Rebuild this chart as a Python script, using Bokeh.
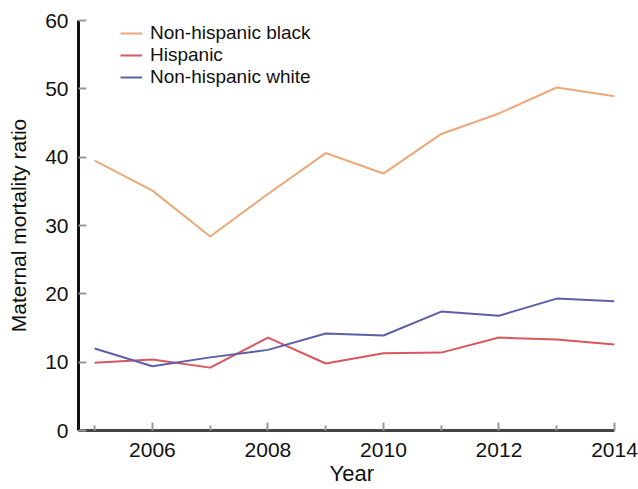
from bokeh.plotting import figure
from bokeh.models import FixedTicker, Range1d, Title
from bokeh.embed import file_html
from bokeh.resources import INLINE

years = [2005, 2006, 2007, 2008, 2009, 2010, 2011, 2012, 2013, 2014]
nh_black = [39.5, 35.1, 28.4, 34.6, 40.6, 37.6, 43.4, 46.4, 50.2, 48.9]
hispanic = [9.9, 10.4, 9.2, 13.6, 9.8, 11.3, 11.4, 13.6, 13.3, 12.6]
nh_white = [12.0, 9.4, 10.7, 11.8, 14.2, 13.9, 17.4, 16.8, 19.3, 18.9]
x_major = [2006, 2008, 2010, 2012, 2014]
x_minor = [2005, 2007, 2009, 2011, 2013]
y_ticks = [0, 10, 20, 30, 40, 50, 60]

FONT = "Liberation Sans"

p = figure(width=638, height=489, output_backend="svg", toolbar_location=None,
           x_range=Range1d(2004.72, 2014), y_range=Range1d(0, 60),
           min_border_left=78, min_border_right=24, min_border_top=20,
           min_border_bottom=59)
p.outline_line_color = None
p.xgrid.visible = False
p.ygrid.visible = False

p.line(years, nh_black, line_color="#EBA878", line_width=2, line_join="round",
       legend_label="Non-hispanic black")
p.line(years, hispanic, line_color="#D9575C", line_width=2, line_join="round",
       legend_label="Hispanic")
p.line(years, nh_white, line_color="#5C5FA8", line_width=2, line_join="round",
       legend_label="Non-hispanic white")

xa = p.xaxis[0]
xa.ticker = FixedTicker(ticks=x_major, minor_ticks=x_minor)
xa.axis_line_width = 3
xa.axis_line_color = "#444444"
xa.major_tick_in = 8
xa.major_tick_out = 0
xa.minor_tick_in = 5
xa.minor_tick_out = 0
xa.major_tick_line_color = "#999999"
xa.minor_tick_line_color = "#999999"
xa.major_tick_line_width = 2
xa.minor_tick_line_width = 2
xa.major_label_text_font = FONT
xa.major_label_text_font_size = "21px"
xa.major_label_text_color = "#111111"
xa.major_label_standoff = 12

p.add_layout(Title(text="Year", align="left", vertical_align="middle",
                   text_font=FONT, text_font_size="22px",
                   text_font_style="normal", text_color="#111111",
                   standoff=0, offset=251), "below")

ya = p.yaxis[0]
ya.ticker = FixedTicker(ticks=y_ticks, minor_ticks=[])
ya.axis_label = "Maternal mortality ratio"
ya.axis_line_width = 3
ya.axis_line_color = "#111111"
ya.major_tick_in = 8
ya.major_tick_out = 0
ya.minor_tick_in = 0
ya.minor_tick_out = 0
ya.major_tick_line_color = "#999999"
ya.major_tick_line_width = 2
ya.major_label_text_font = FONT
ya.major_label_text_font_size = "21px"
ya.major_label_text_color = "#111111"
ya.major_label_standoff = 10
ya.axis_label_text_font = FONT
ya.axis_label_text_font_size = "21px"
ya.axis_label_text_font_style = "normal"
ya.axis_label_text_color = "#111111"
ya.axis_label_standoff = 12

lg = p.legend[0]
lg.location = (42, 342)
lg.padding = 0
lg.margin = 0
lg.spacing = 0
lg.label_height = 20
lg.glyph_height = 20
lg.glyph_width = 22
lg.label_standoff = 8
lg.label_text_font = FONT
lg.label_text_font_size = "19px"
lg.label_text_color = "#111111"
lg.background_fill_alpha = 0
lg.border_line_alpha = 0

open("out.html", "w").write(file_html(p, INLINE))
